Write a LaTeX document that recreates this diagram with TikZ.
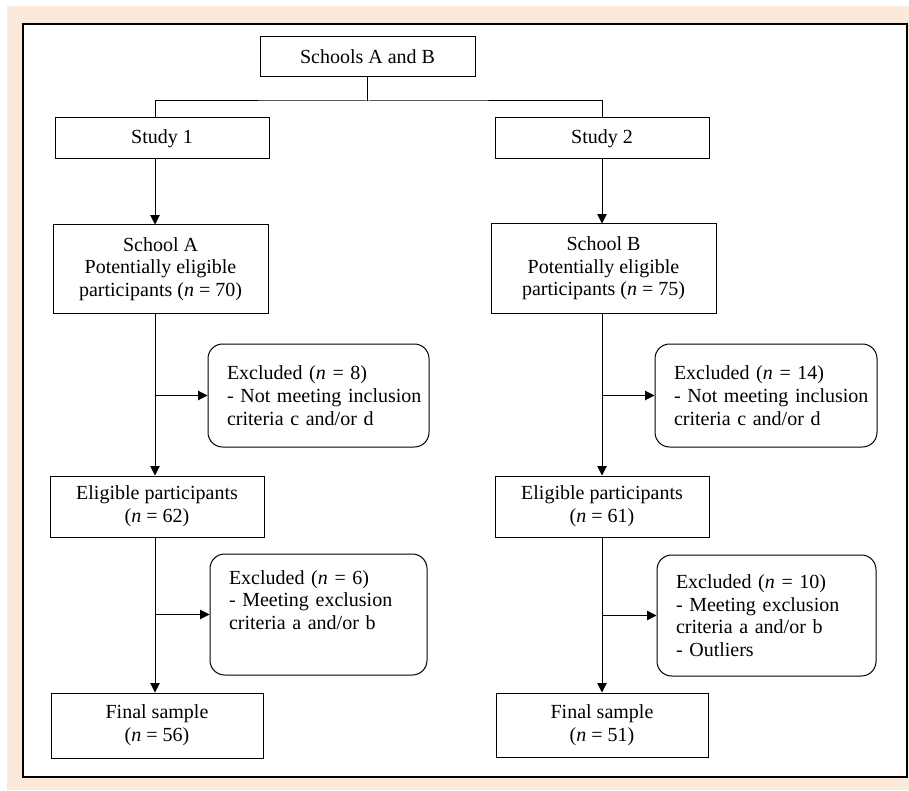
\documentclass[tikz,border=0pt]{standalone}
\usepackage{fontspec}
\setmainfont{Liberation Serif}
\usetikzlibrary{arrows.meta}

\definecolor{peach}{RGB}{251,233,219}

\tikzset{every picture/.style={line width=0.75pt}}
\tikzset{
  box/.style={draw, rectangle, inner sep=0pt, align=center, font=\fontsize{15}{17}\selectfont},
  exbox/.style={draw, rectangle, rounded corners=11pt, inner xsep=14.25pt, inner ysep=0pt, align=left, font=\fontsize{15}{17}\selectfont},
  arr/.style={-{Triangle[length=7pt,width=7pt]}}
}

\begin{document}
\begin{tikzpicture}[x=0.75pt,y=0.75pt,yscale=-1,xscale=1]
\useasboundingbox (0,0) rectangle (909,791);

%Frame
\fill [peach] (7,6) rectangle (909,790);
\draw [fill=white, line width=1.5pt] (23,24) rectangle (907,777);

%Columns
\coordinate (colA) at (155,0);
\coordinate (colB) at (602,0);
\coordinate (split) at (367.5,101);

% Text Node
\draw (367.5,57) node [box, minimum width=161.25pt, minimum height=30pt] (top) {Schools A and B};
% Text Node
\draw (162,138.5) node [box, minimum width=160.5pt, minimum height=30.75pt] (studyA) {Study 1};
% Text Node
\draw (602,138.5) node [box, minimum width=160.5pt, minimum height=30.75pt] (studyB) {Study 2};
% Text Node
\draw (160.5,269) node [box, minimum width=161.25pt, minimum height=66pt] (schoolA) {School A\\Potentially eligible\\participants (\textit{n} = 70)};
% Text Node
\draw (603.5,268.5) node [box, minimum width=168.75pt, minimum height=66.75pt] (schoolB) {School B\\Potentially eligible\\participants (\textit{n} = 75)};
% Text Node
\draw (318.5,395.5) node [exbox, text width=137.25pt, minimum height=77.25pt] (exA1) {Excluded (\textit{n} = 8)\\\mbox{- Not meeting inclusion}\\criteria c and/or d};
% Text Node
\draw (766,395.5) node [exbox, text width=138pt, minimum height=77.25pt] (exB1) {Excluded (\textit{n} = 14)\\\mbox{- Not meeting inclusion}\\criteria c and/or d};
% Text Node
\draw (157,506.5) node [box, minimum width=160.5pt, minimum height=45.75pt] (eligA) {Eligible participants\\(\textit{n} = 62)};
% Text Node
\draw (602,506.5) node [box, minimum width=160.5pt, minimum height=45.75pt] (eligB) {Eligible participants\\(\textit{n} = 61)};
% Text Node
\draw (318.5,614.5) node [exbox, text width=134.25pt, minimum height=90.75pt] (exA2) {Excluded (\textit{n} = 6)\\- Meeting exclusion\\criteria a and/or b\\\strut};
% Text Node
\draw (766.5,615.5) node [exbox, text width=135.75pt, minimum height=90.75pt] (exB2) {Excluded (\textit{n} = 10)\\- Meeting exclusion\\criteria a and/or b\\- Outliers};
% Text Node
\draw (157,725.5) node [box, minimum width=159pt, minimum height=48.75pt] (finA) {Final sample\\(\textit{n} = 56)};
% Text Node
\draw (602,725) node [box, minimum width=159pt, minimum height=48pt] (finB) {Final sample\\(\textit{n} = 51)};

%Straight Lines
\draw (top.south) -- (split);
\draw (studyA.north -| colA) |- (split) -| (studyB.north -| colB);

%Straight Lines
\draw [arr] (studyA.south -| colA) -- (schoolA.north -| colA);
\draw [arr] (schoolA.south -| colA) -- (eligA.north -| colA);
\draw [arr] (eligA.south -| colA) -- (finA.north -| colA);
\draw [arr] (exA1.west -| colA) -- (exA1.west);
\draw [arr] (exA2.west -| colA) -- (exA2.west);

%Straight Lines
\draw [arr] (studyB.south -| colB) -- (schoolB.north -| colB);
\draw [arr] (schoolB.south -| colB) -- (eligB.north -| colB);
\draw [arr] (eligB.south -| colB) -- (finB.north -| colB);
\draw [arr] (exB1.west -| colB) -- (exB1.west);
\draw [arr] (exB2.west -| colB) -- (exB2.west);

\end{tikzpicture}
\end{document}
